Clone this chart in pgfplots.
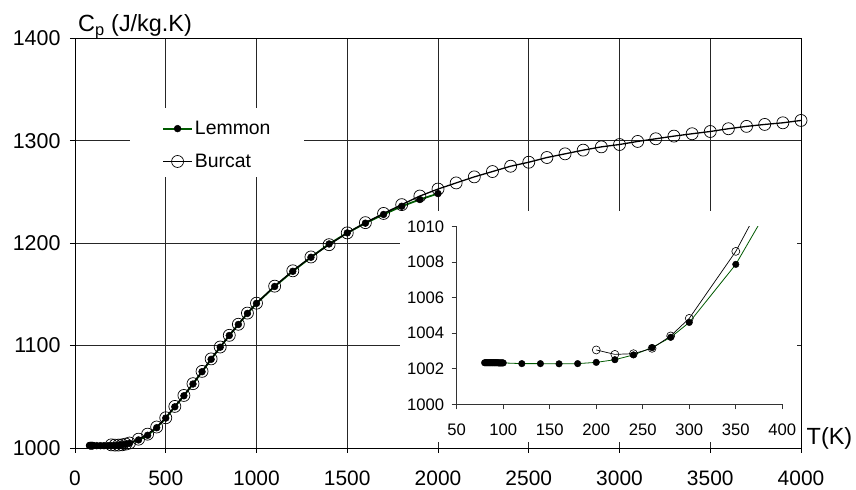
\documentclass[border=0pt]{standalone}
\usepackage{fontspec}
\setmainfont{Liberation Sans}
\usepackage{pgfplots}
\usepackage{pgfplotstable}
\pgfplotsset{compat=1.18}
\definecolor{lgreen}{RGB}{0,90,0}

\pgfplotstableread{
T Cp
80 1002.34
81 1002.34
82 1002.34
83 1002.34
84 1002.34
85 1002.34
86 1002.34
87 1002.34
88 1002.34
89 1002.34
90 1002.34
91 1002.34
92 1002.34
93 1002.34
94 1002.34
95 1002.33
96 1002.33
97 1002.33
98 1002.33
99 1002.33
100 1002.33
120 1002.29
140 1002.29
160 1002.28
180 1002.29
200 1002.36
220 1002.51
240 1002.78
260 1003.19
280 1003.77
300 1004.61
350 1007.88
400 1012.4
450 1019.8
500 1029.2
550 1040.2
600 1051.0
650 1062.5
700 1074.5
750 1086.6
800 1098.4
850 1109.8
900 1120.6
950 1131.4
1000 1141.2
1100 1157.7
1200 1172.5
1300 1186.2
1400 1199.2
1500 1210.0
1600 1219.5
1700 1228.0
1800 1236.0
1900 1242.6
2000 1248.4
}\lemmon

\pgfplotstableread{
T Cp
200 1003.06
220 1002.81
240 1002.85
260 1003.15
280 1003.85
300 1004.84
350 1008.61
400 1013.5
450 1020.5
500 1029.5
550 1040.6
600 1051.3
650 1062.8
700 1074.8
750 1087.0
800 1098.6
850 1110.0
900 1120.8
950 1131.7
1000 1141.4
1100 1158.0
1200 1173.0
1300 1186.5
1400 1198.5
1500 1210.0
1600 1220.0
1700 1229.0
1800 1237.6
1900 1246.0
2000 1252.8
2100 1258.8
2200 1264.7
2300 1269.9
2400 1275.1
2500 1279.0
2600 1283.6
2700 1287.2
2800 1290.8
2900 1294.0
3000 1296.3
3100 1299.3
3200 1301.9
3300 1304.5
3400 1306.8
3500 1309.0
3600 1311.7
3700 1314.0
3800 1315.9
3900 1317.5
4000 1319.8
}\burcat

\begin{document}
\begin{tikzpicture}[x=1bp,y=1bp]
\path[use as bounding box] (0,0) rectangle (856,490);

\begin{axis}[
  at={(75bp,42bp)}, anchor=south west,
  scale only axis, width=726bp, height=409.7bp,
  xmin=0, xmax=4000, ymin=1000, ymax=1400,
  xtick={0,500,...,4000}, ytick={1000,1100,...,1400},
  xtick pos=bottom, ytick pos=left,
  tick align=outside, major tick length=5bp,
  grid=major,
  major grid style={black!85, line width=0.6bp},
  axis line style={black, line width=0.9bp},
  tick style={black, line width=0.8bp},
  /pgf/number format/assume math mode=true,
  /pgf/number format/1000 sep={},
  xticklabel style={font=\fontsize{21}{24}\selectfont, yshift=-14bp},
  yticklabel style={font=\fontsize{21.5}{24}\selectfont, xshift=-6bp},
  legend style={at={(0.1198,0.803)}, anchor=north west, draw=none, fill=none,
     font=\fontsize{19.5}{23}\selectfont, row sep=14bp, inner sep=0pt},
  legend cell align=left,
]
\fill[white] (axis cs:303,1264.6) rectangle (axis cs:1261,1331.9);
\addplot[lgreen, line width=1.8bp, mark=*, mark size=3.4bp, mark options={fill=black, draw=black, line width=0.5bp},
  legend image code/.code={\draw[mark repeat=2, mark phase=2] plot coordinates {(0bp,0bp) (14.5bp,0bp) (29bp,0bp)};}] table[x=T,y=Cp] {\lemmon};
\addlegendentry{Lemmon}
\addplot[black, line width=1.3bp, mark=o, mark size=6bp, mark options={draw=black, line width=0.7bp},
  legend image code/.code={\draw[mark repeat=2, mark phase=2] plot coordinates {(0bp,0bp) (14.5bp,0bp) (29bp,0bp)};}] table[x=T,y=Cp] {\burcat};
\addlegendentry{Burcat}
\end{axis}

\node[anchor=base west, font=\fontsize{23.5}{27}\selectfont, inner sep=0pt] at (78,458.5) {C\textsubscript{p} (J/kg.K)};

\fill[white] (400,47.5) rectangle (797,279.3);
\node[anchor=base west, font=\fontsize{23.5}{27}\selectfont, inner sep=0pt] at (806.5,45) {T(K)};

\begin{axis}[
  at={(456.7bp,85.7bp)}, anchor=south west,
  scale only axis, width=325.6bp, height=177.6bp,
  xmin=50, xmax=400, ymin=1000, ymax=1010,
  xtick={50,100,...,400}, ytick={1000,1002,...,1010},
  axis x line*=bottom, axis y line*=left,
  tick align=outside, major tick length=5bp,
  axis line style={black!80, line width=0.8bp},
  tick style={black!80, line width=0.8bp},
  /pgf/number format/assume math mode=true,
  /pgf/number format/1000 sep={},
  tick label style={font=\fontsize{16.7}{20}\selectfont},
  xticklabel style={yshift=-11bp},
  yticklabel style={xshift=-4bp},
]
\addplot[lgreen, line width=0.8bp, mark=*, mark size=3.3bp, mark options={fill=black, draw=black, line width=0.4bp}] table[x=T,y=Cp] {\lemmon};
\addplot[black, line width=0.7bp, mark=o, mark size=4bp, mark options={draw=black, line width=0.6bp}] table[x=T,y=Cp] {\burcat};
\end{axis}
\end{tikzpicture}
\end{document}
